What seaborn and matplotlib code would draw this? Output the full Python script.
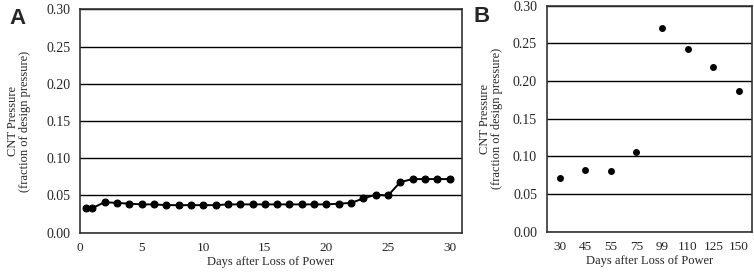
import matplotlib
matplotlib.use("Agg")
import matplotlib.pyplot as plt
import numpy as np
import pandas as pd
import seaborn as sns

# panel A: daily pressure over first 30 days
days_a = [0.5, 1, 2, 3, 4, 5, 6, 7, 8, 9, 10, 11, 12, 13, 14, 15, 16, 17, 18,
          19, 20, 21, 22, 23, 24, 25, 26, 27, 28, 29, 30]
pressure_a = [0.033, 0.033, 0.041, 0.040, 0.039, 0.038, 0.038, 0.037, 0.037,
              0.037, 0.037, 0.037, 0.038, 0.038, 0.038, 0.038, 0.038, 0.038,
              0.038, 0.038, 0.038, 0.039, 0.040, 0.046, 0.051, 0.050, 0.068,
              0.072, 0.072, 0.072, 0.072]

# panel B: longer-term points (categorical x)
days_b = ["30", "45", "55", "75", "99", "110", "125", "150"]
pressure_b = [0.071, 0.082, 0.080, 0.106, 0.271, 0.243, 0.219, 0.187]

yticks = [0.00, 0.05, 0.10, 0.15, 0.20, 0.25, 0.30]
xticks_a = [0, 5, 10, 15, 20, 25, 30]

sns.set_style("white")
plt.rcParams['font.family'] = ['Liberation Serif', 'DejaVu Serif']
plt.rcParams['font.size'] = 9

fig = plt.figure(figsize=(7.54, 2.72), dpi=100)
ax1 = fig.add_axes([0.1061, 0.1445, 0.5066, 0.8213])
ax2 = fig.add_axes([0.7251, 0.1482, 0.2719, 0.8308])

df_a = pd.DataFrame({"day": days_a, "p": pressure_a})
sns.lineplot(data=df_a, x="day", y="p", ax=ax1, color="black", lw=1.4,
             marker="o", markersize=5, markeredgecolor="black")
ax1.set_xlim(0, 31)
ax1.set_xticks(xticks_a)

df_b = pd.DataFrame({"day": days_b, "p": pressure_b})
sns.stripplot(data=df_b, x="day", y="p", ax=ax2, color="black", jitter=False,
              size=5, order=days_b)
ax2.set_xlim(-0.5, 7.5)

for ax, lp in ((ax1, 11), (ax2, 7)):
    ax.set_ylim(0, 0.30)
    ax.set_yticks(yticks)
    ax.set_yticklabels([f"{v:.2f}" for v in yticks])
    ax.yaxis.grid(True, color="black", lw=1.0)
    ax.xaxis.grid(False)
    ax.set_axisbelow(True)
    ax.tick_params(axis="y", length=0, labelsize=10, pad=7)
    ax.tick_params(axis="x", length=0, labelsize=9.5, pad=7)
    for s in ax.spines.values():
        s.set_visible(True)
        s.set_color("#333333")
        s.set_linewidth(1.2)
    ax.set_xlabel("Days after Loss of Power", fontsize=9, labelpad=1)
    ax.set_ylabel("CNT Pressure\n(fraction of design pressure)", fontsize=9,
                  labelpad=lp, linespacing=1.0)

fig.text(0.013, 0.97, "A", fontsize=16, fontweight="bold",
         family="Liberation Sans", va="top")
fig.text(0.628, 0.978, "B", fontsize=16, fontweight="bold",
         family="Liberation Sans", va="top")

fig.savefig("out.png", dpi=100)
